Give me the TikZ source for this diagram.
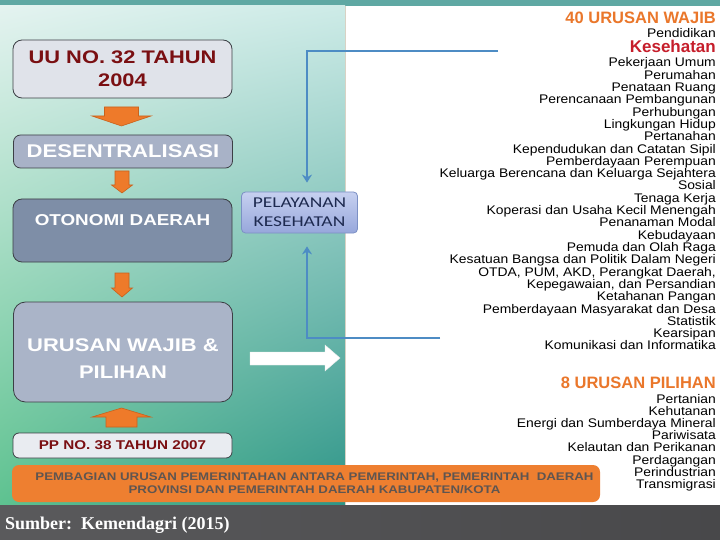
\documentclass[tikz,border=0pt]{standalone}
\usepackage{fontspec}
\setmainfont{Liberation Sans}
\newfontfamily\slidefont{Liberation Sans}[FakeStretch=1.2]
\newfontfamily\listfont{Liberation Sans}[FakeStretch=1.11]
\newfontfamily\pelfont{Carlito}[FakeStretch=1.3]
\newfontfamily\srcfont{Liberation Serif}
\usetikzlibrary{arrows.meta,shadings}

\definecolor{topteal}{HTML}{5FA8A3}
\definecolor{bgUL}{HTML}{E4F3F0}
\definecolor{bgUR}{HTML}{CDEBE7}
\definecolor{bgLL}{HTML}{5EC290}
\definecolor{bgLR}{HTML}{2E9588}
\definecolor{barleft}{HTML}{5A5A5C}
\definecolor{barright}{HTML}{48484A}
\definecolor{panelline}{HTML}{D8D2C4}
\definecolor{uufill}{HTML}{E0E3EA}
\definecolor{desfill}{HTML}{A8B2C7}
\definecolor{otofill}{HTML}{7E8EA7}
\definecolor{urufill}{HTML}{AAB4C8}
\definecolor{ppfill}{HTML}{E9ECF1}
\definecolor{boxline}{HTML}{3C3F45}
\definecolor{darkred}{HTML}{7A0F12}
\definecolor{arroworange}{HTML}{EE7A2A}
\definecolor{arrowedge}{HTML}{C9621C}
\definecolor{bannerorange}{HTML}{EE7F30}
\definecolor{bannertext}{HTML}{5F5550}
\definecolor{linkblue}{HTML}{4D8CC4}
\definecolor{peltop}{HTML}{C6D0F0}
\definecolor{pelbot}{HTML}{97A7DB}
\definecolor{pelline}{HTML}{7C90C4}
\definecolor{peltext}{HTML}{1E2A50}
\definecolor{headorange}{HTML}{EA772B}
\definecolor{kesred}{HTML}{C61E2B}

\begin{document}
\begin{tikzpicture}
  [x=1pt,y=-1pt,
   box/.style={draw=boxline,line width=0.8pt,rounded corners=9pt,minimum width=219pt,
     align=center,text=white,inner sep=0pt},
   item/.style={anchor=east,inner sep=0pt,font=\listfont\fontsize{12.5}{12.5}\selectfont,
     text height=9pt,text depth=3pt},
   head/.style={anchor=east,inner sep=0pt,font=\bfseries\fontsize{16.5}{16.5}\selectfont,text=headorange,
     text height=11pt,text depth=0pt},
   bluelink/.style={draw=linkblue,line width=2.8pt,-{Stealth[length=8pt,width=10pt]}},
   orangearrow/.style={fill=arroworange,draw=arrowedge,line width=0.6pt,line join=miter}]
  \useasboundingbox (0,0) rectangle (720,540);

  % background
  \fill[topteal] (0,0) rectangle (720,6);
  \shade[upper left=bgUL,upper right=bgUR,lower left=bgLL,lower right=bgLR] (0,6) rectangle (345,505);
  \fill[white] (345,6) rectangle (720,505);
  \draw[panelline] (345.5,6) -- (345.5,505);
  \shade[left color=barleft,right color=barright] (0,505) rectangle (720,540);

  % left column
  \node[box,fill=uufill,text=darkred,minimum height=58pt,
    font=\slidefont\bfseries\fontsize{18.2}{23}\selectfont] (uu) at (122.5,69) {UU NO. 32 TAHUN\\2004};
  \node[box,fill=desfill,minimum height=33pt,rounded corners=7pt,
    font=\slidefont\bfseries\fontsize{18.4}{20}\selectfont] (des) at (123,151.5) {DESENTRALISASI};
  \node[box,fill=otofill,minimum height=63pt,text depth=21pt,
    font=\slidefont\bfseries\fontsize{15.7}{18}\selectfont] (oto) at (122.5,230.5) {OTONOMI DAERAH};
  \node[box,fill=urufill,minimum height=100pt,rounded corners=12pt,text height=52pt,
    font=\slidefont\bfseries\fontsize{18.3}{27}\selectfont] (uru) at (123,352) {URUSAN WAJIB \&\\PILIHAN};
  \node[box,fill=ppfill,text=darkred,minimum height=25pt,rounded corners=6pt,
    font=\slidefont\bfseries\fontsize{12.7}{14}\selectfont] (pp) at (122.5,445.5) {PP NO. 38 TAHUN 2007};

  % block arrows
  \foreach \x/\top/\sw/\hw/\sl/\hl in {121.5/107/17/29.5/9/10,122/171/7/10.5/14/8,122/273/7/10.5/15/9}
    \draw[orangearrow] ({\x-\sw},\top) -- ({\x+\sw},\top) -- ({\x+\sw},{\top+\sl}) -- ({\x+\hw},{\top+\sl})
      -- (\x,{\top+\sl+\hl}) -- ({\x-\hw},{\top+\sl}) -- ({\x-\sw},{\top+\sl}) -- cycle;
  \draw[orangearrow] (106,427) -- (106,417) -- (92,417) -- (121.5,408) -- (151,417) -- (137,417) -- (137,427) -- cycle;
  \fill[white,draw=white!85!gray,line width=0.4pt] (250,352) -- (325,352) -- (325,345) -- (340,358)
    -- (325,371) -- (325,365) -- (250,365) -- cycle;

  % banner
  \node[fill=bannerorange,rounded corners=7pt,minimum width=588pt,minimum height=37pt,inner sep=0pt] (banner) at (306,483.5) {};
  \node[align=center,inner sep=0pt,text=bannertext,font=\slidefont\bfseries\fontsize{11.05}{13}\selectfont] (bannertxt) at (314.5,483.5)
    {PEMBAGIAN URUSAN PEMERINTAHAN ANTARA PEMERINTAH, PEMERINTAH\ \ DAERAH\\PROVINSI DAN PEMERINTAH DAERAH KABUPATEN/KOTA};

  % pelayanan
  \node[draw=pelline,line width=0.8pt,top color=peltop,bottom color=pelbot,rounded corners=4pt,
    minimum width=116pt,minimum height=41pt,inner sep=0pt,align=center,text=peltext,
    font=\pelfont\fontsize{15}{19}\selectfont] (pel) at (299.5,212.5) {PELAYANAN\\KESEHATAN};

  % right list
  \node[head] (wajib) at (716,18) {40 URUSAN WAJIB};
  \node[item] (w1) at (716,35) {Pendidikan};
  \node[anchor=east,inner sep=0pt,font=\bfseries\fontsize{17}{17}\selectfont,text=kesred,
    text height=12pt,text depth=0pt] (w2) at (716,47) {Kesehatan};
  \foreach \txt [count=\i from 3] in {Pekerjaan Umum,Perumahan,Penataan Ruang,Perencanaan Pembangunan,
      Perhubungan,Lingkungan Hidup,Pertanahan,Kependudukan dan Catatan Sipil,Pemberdayaan Perempuan,
      Keluarga Berencana dan Keluarga Sejahtera,Sosial,Tenaga Kerja,Koperasi dan Usaha Kecil Menengah,
      Penanaman Modal,Kebudayaan,Pemuda dan Olah Raga,Kesatuan Bangsa dan Politik Dalam Negeri,
      {OTDA, PUM, AKD, Perangkat Daerah,},{Kepegawaian, dan Persandian},Ketahanan Pangan,
      Pemberdayaan Masyarakat dan Desa,Statistik,Kearsipan,Komunikasi dan Informatika}
    \node[item] (w\i) at (716,{64+(\i-3)*12.3}) {\txt};
  \node[head] (pilihan) at (716,383) {8 URUSAN PILIHAN};
  \foreach \txt [count=\i] in {Pertanian,Kehutanan,Energi dan Sumberdaya Mineral,Pariwisata,
      Kelautan dan Perikanan,Perdagangan,Perindustrian,Transmigrasi}
    \node[item] (p\i) at (716,{400+(\i-1)*12.2}) {\txt};

  % connectors
  \coordinate (kes) at (498,51);
  \coordinate (wjb) at (440,338);
  \draw[bluelink,shorten >=9pt] (kes) -| ([xshift=7.5pt]pel.north);
  \draw[bluelink,shorten >=13pt] (wjb) -| ([xshift=7.5pt]pel.south);

  % source
  \node[anchor=west,inner sep=0pt,text=white,font=\srcfont\bfseries\fontsize{18}{18}\selectfont] (src) at (5,525)
    {Sumber:\ \ Kemendagri (2015)};
\end{tikzpicture}
\end{document}
